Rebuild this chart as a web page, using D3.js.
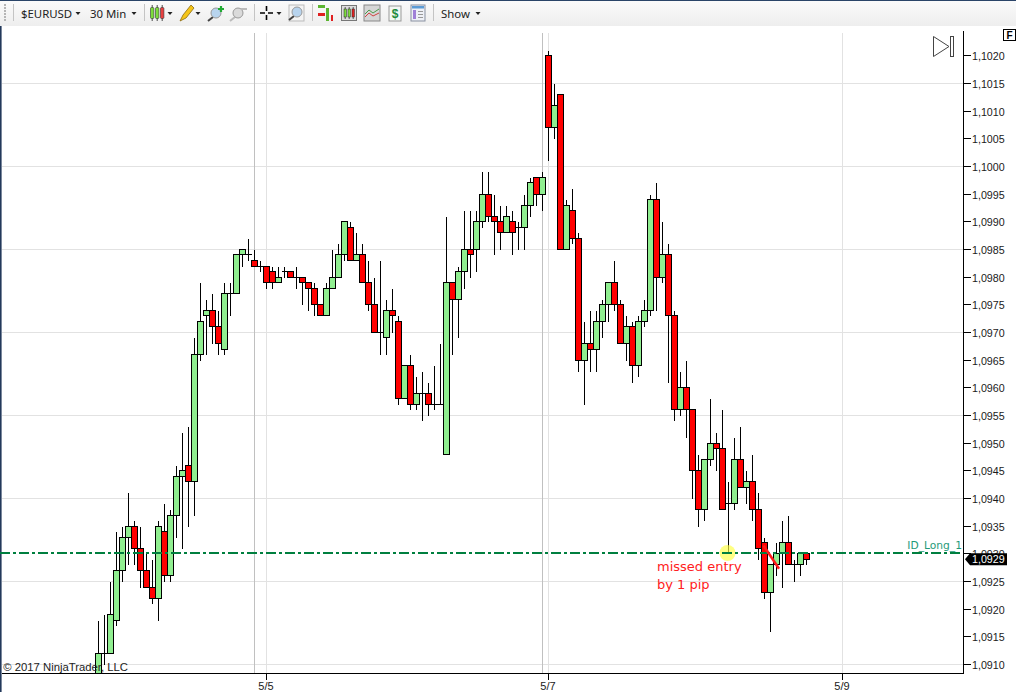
<!DOCTYPE html>
<html><head><meta charset="utf-8">
<script src="https://cdn.jsdelivr.net/npm/d3@7/dist/d3.min.js"></script>
<style>html,body{margin:0;padding:0;background:#fff;overflow:hidden}svg{display:block}</style>
</head><body><svg id="c" width="1016" height="692"></svg>
<script>
const opens=[1.0908,1.0912,1.0912,1.0918,1.0927,1.0933,1.0935,1.0931,1.0927,1.0924,1.0922,1.0934,1.0926,1.0937,1.0944,1.0946,1.0943,1.0966,1.0973,1.0974,1.0971,1.0967,1.0977,1.0977,1.0984,1.0984,1.0983,1.0982,1.0982,1.0981,1.0979,1.0981,1.0981,1.0980,1.0980,1.0979,1.0978,1.0975,1.0973,1.0978,1.0980,1.0984,1.0989,1.0983,1.0984,1.0979,1.0975,1.0970,1.0969,1.0974,1.0972,1.0958,1.0964,1.0957,1.0959,1.0959,1.0957,1.0957,1.0948,1.0979,1.0976,1.0981,1.0985,1.0985,1.0990,1.0995,1.0991,1.0990,1.0988,1.0990,1.0989,1.0989,1.0993,1.0998,1.0995,1.1020,1.1007,1.1013,1.0985,1.0992,1.0987,1.0965,1.0968,1.0967,1.0972,1.0975,1.0979,1.0975,1.0968,1.0971,1.0964,1.0972,1.0974,1.0994,1.0980,1.0984,1.0973,1.0956,1.0960,1.0956,1.0945,1.0938,1.0947,1.0950,1.0949,1.0939,1.0939,1.0947,1.0942,1.0943,1.0938,1.0932,1.0923,1.0928,1.0930,1.0932,1.0928,1.0928,1.0930];
const highs=[1.0918,1.0919,1.0925,1.0934,1.0935,1.0941,1.0936,1.0935,1.0930,1.0929,1.0936,1.0939,1.0938,1.0946,1.0952,1.0953,1.0969,1.0979,1.0976,1.0977,1.0974,1.0979,1.0979,1.0984,1.0985,1.0987,1.0985,1.0983,1.0982,1.0982,1.0982,1.0982,1.0981,1.0982,1.0980,1.0979,1.0979,1.0975,1.0979,1.0985,1.0986,1.0990,1.0990,1.0988,1.0986,1.0983,1.0980,1.0983,1.0976,1.0978,1.0973,1.0964,1.0966,1.0962,1.0963,1.0961,1.0964,1.0968,1.0991,1.0979,1.0982,1.0992,1.0992,1.0992,1.0999,1.0999,1.0995,1.0993,1.0993,1.0992,1.0990,1.0995,1.0998,1.0998,1.0999,1.1021,1.1015,1.1013,1.0994,1.0996,1.0988,1.0972,1.0974,1.0974,1.0976,1.0979,1.0983,1.0976,1.0973,1.0972,1.0973,1.0976,1.0995,1.0997,1.0990,1.0986,1.0974,1.0963,1.0965,1.0956,1.0948,1.0947,1.0958,1.0952,1.0956,1.0943,1.0951,1.0953,1.0945,1.0948,1.0941,1.0933,1.0928,1.0932,1.0936,1.0937,1.0929,1.0930,1.0930];
const lows=[1.0908,1.0910,1.0912,1.0917,1.0925,1.0928,1.0928,1.0924,1.0924,1.0921,1.0918,1.0925,1.0925,1.0933,1.0931,1.0935,1.0937,1.0965,1.0966,1.0968,1.0966,1.0966,1.0973,1.0977,1.0982,1.0983,1.0982,1.0981,1.0978,1.0978,1.0979,1.0980,1.0980,1.0978,1.0975,1.0974,1.0973,1.0973,1.0973,1.0978,1.0980,1.0983,1.0983,1.0983,1.0979,1.0974,1.0970,1.0966,1.0966,1.0970,1.0957,1.0958,1.0956,1.0956,1.0954,1.0955,1.0956,1.0957,1.0948,1.0966,1.0969,1.0978,1.0980,1.0981,1.0989,1.0990,1.0984,1.0985,1.0988,1.0984,1.0985,1.0985,1.0991,1.0993,1.0992,1.1001,1.1005,1.0985,1.0985,1.0986,1.0963,1.0957,1.0963,1.0963,1.0969,1.0972,1.0974,1.0968,1.0965,1.0961,1.0962,1.0971,1.0973,1.0974,1.0979,1.0961,1.0954,1.0955,1.0951,1.0940,1.0935,1.0936,1.0946,1.0945,1.0938,1.0930,1.0938,1.0942,1.0939,1.0936,1.0929,1.0922,1.0916,1.0926,1.0924,1.0928,1.0925,1.0926,1.0928];
const closes=[1.0912,1.0912,1.0919,1.0927,1.0933,1.0935,1.0931,1.0927,1.0924,1.0922,1.0935,1.0926,1.0937,1.0944,1.0945,1.0943,1.0966,1.0972,1.0974,1.0971,1.0968,1.0977,1.0977,1.0984,1.0985,1.0984,1.0982,1.0982,1.0979,1.0979,1.0980,1.0981,1.0980,1.0980,1.0979,1.0978,1.0975,1.0973,1.0978,1.0980,1.0984,1.0990,1.0983,1.0984,1.0979,1.0975,1.0970,1.0970,1.0974,1.0973,1.0958,1.0964,1.0957,1.0959,1.0959,1.0957,1.0957,1.0957,1.0979,1.0976,1.0981,1.0985,1.0984,1.0990,1.0995,1.0991,1.0990,1.0988,1.0991,1.0988,1.0989,1.0993,1.0997,1.0995,1.0998,1.1007,1.1011,1.0985,1.0993,1.0987,1.0965,1.0968,1.0967,1.0972,1.0975,1.0979,1.0975,1.0968,1.0971,1.0964,1.0972,1.0974,1.0994,1.0980,1.0984,1.0973,1.0956,1.0960,1.0956,1.0945,1.0938,1.0947,1.0950,1.0949,1.0938,1.0939,1.0947,1.0942,1.0943,1.0938,1.0931,1.0923,1.0928,1.0930,1.0932,1.0928,1.0928,1.0930,1.0929];
const priceTicks=[1.0910,1.0915,1.0920,1.0925,1.0930,1.0935,1.0940,1.0945,1.0950,1.0955,1.0960,1.0965,1.0970,1.0975,1.0980,1.0985,1.0990,1.0995,1.1000,1.1005,1.1010,1.1015,1.1020];
const priceGrid=[1.0910,1.0925,1.0940,1.0955,1.0970,1.0985,1.1000,1.1015];
const dateIndex=[28,75,124];
const dateLabels=["5/5","5/7","5/9"];
const sessionIndex=[26,74];
const entryPrice=1.0930, lastPrice=1.0929;
const missIndex=105;
const strokeFrom=[111,1.09315], strokeTo=[113,1.09273];
const noteLines=["missed entry","by 1 pip"];

const svg=d3.select("#c");
const L=2,R=963.5,T=33,B=673.5;
const x=d3.scaleLinear().domain([0,1]).range([98.5,104.5]);
const y=d3.scaleLinear().domain([1.0910,1.1020]).range([664.5,55.7]);
const py=v=>Math.floor(y(v))+0.5;
const sans="'Liberation Sans',Arial,sans-serif";
const ui="'Noto Sans','Open Sans',sans-serif";

// toolbar
const defs=svg.append("defs");
const g0=defs.append("linearGradient").attr("id","tb").attr("x1",0).attr("x2",0).attr("y1",0).attr("y2",1);
g0.append("stop").attr("offset",0).attr("stop-color","#fbfbfb");
g0.append("stop").attr("offset",1).attr("stop-color","#eeeeee");
const tb=svg.append("g");
tb.append("rect").attr("width",1016).attr("height",26).attr("fill","url(#tb)");
tb.append("rect").attr("width",1016).attr("height",1).attr("fill","#2a4468");
svg.append("rect").attr("x",0).attr("y",26).attr("width",1.6).attr("height",666).attr("fill","#23395b");
[[21,"$EURUSD"],[90,"30 Min"],[441,"Show"]].forEach(d=>tb.append("text").attr("x",d[0]).attr("y",17.5).attr("font-family",ui).attr("font-size",11.4).attr("fill","#222").text(d[1]));
[78,134,170,198,279,478].forEach(a=>tb.append("path").attr("d",`M${a-2.5} 12L${a+2.5} 12L${a} 15Z`).attr("fill","#222"));
[13.5,144.5,254.5,312.5,433.5].forEach(a=>tb.append("line").attr("x1",a).attr("x2",a).attr("y1",4).attr("y2",21).attr("stroke","#c4c4c4"));
[4,7,10,13,16,19].forEach(a=>tb.append("rect").attr("x",4).attr("y",a).attr("width",2).attr("height",2).attr("fill","#b5b5b5"));
// candle icon
[[150.5,"#7ddc3c"],[155.5,"#7ddc3c"],[160.5,"#e84040"]].forEach(d=>{
  tb.append("line").attr("x1",d[0]+1.7).attr("x2",d[0]+1.7).attr("y1",5).attr("y2",21).attr("stroke","#222").attr("stroke-width",.8);
  tb.append("rect").attr("x",d[0]).attr("y",7.5).attr("width",3.4).attr("height",11).attr("rx",1).attr("fill",d[1]).attr("stroke","#333").attr("stroke-width",.6);});
// pencil
tb.append("path").attr("d","M180 21L183 15L191 5L194 8L186 18Z").attr("fill","#f5c518").attr("stroke","#8a6a10").attr("stroke-width",.8);
// zoom icons
function lens(cx,cy,c,h){tb.append("line").attr("x1",cx-3).attr("y1",cy+4).attr("x2",cx-8).attr("y2",cy+8).attr("stroke",h).attr("stroke-width",2);
 tb.append("circle").attr("cx",cx).attr("cy",cy).attr("r",5).attr("fill",c).attr("stroke","#999");}
lens(216,13,"#b8d4ee","#444");
tb.append("path").attr("d","M218 9h6M221 6v6").attr("stroke","#22aa33").attr("stroke-width",2.2);
lens(238,13,"#dadada","#bbb");
tb.append("path").attr("d","M241 9h6").attr("stroke","#bbb").attr("stroke-width",2);
tb.append("path").attr("d","M260 13h5M268 13h5M266.5 6v5M266.5 15v5").attr("stroke","#000").attr("stroke-width",1.6);
tb.append("rect").attr("x",289).attr("y",5).attr("width",15).attr("height",16).attr("fill","#f4f4f4").attr("stroke","#bbb");
lens(297,12,"#b8d4ee","#444");
// right-side toolbar icons
tb.append("rect").attr("x",318).attr("y",5).attr("width",7).attr("height",3).attr("fill","#5cb531");
tb.append("rect").attr("x",318).attr("y",13).attr("width",7).attr("height",3).attr("fill","#e02020");
tb.append("rect").attr("x",326).attr("y",8).attr("width",3).attr("height",13).attr("fill","#5cb531");
tb.append("rect").attr("x",331).attr("y",15).attr("width",2).attr("height",6).attr("fill","#e02020");
tb.append("rect").attr("x",341.5).attr("y",5.5).attr("width",15).attr("height",15).attr("fill","#dcdcdc").attr("stroke","#777");
[[344,"#7ddc3c"],[348,"#7ddc3c"],[352,"#e02020"]].forEach(d=>{
  tb.append("line").attr("x1",d[0]+1.2).attr("x2",d[0]+1.2).attr("y1",7).attr("y2",19).attr("stroke","#222").attr("stroke-width",.7);
  tb.append("rect").attr("x",d[0]).attr("y",9).attr("width",2.4).attr("height",8).attr("fill",d[1]).attr("stroke","#222").attr("stroke-width",.5);});
tb.append("rect").attr("x",364).attr("y",5).attr("width",16).attr("height",16).attr("fill","#d6d6d6").attr("stroke","#888");
tb.append("path").attr("d","M365 14L369 10L373 13L379 9").attr("fill","none").attr("stroke","#4a9a4a");
tb.append("path").attr("d","M365 17L369 13L373 16L379 13").attr("fill","none").attr("stroke","#d04040");
tb.append("rect").attr("x",389).attr("y",6).attr("width",12).attr("height",15).attr("fill","#f4f8f4").attr("stroke","#999");
tb.append("text").attr("x",395).attr("y",18).attr("text-anchor","middle").attr("font-family",sans).attr("font-weight","bold").attr("font-size",12).attr("fill","#1d8a3a").text("$");
tb.append("rect").attr("x",411).attr("y",5).attr("width",14).attr("height",16).attr("fill","#eef0f6").attr("stroke","#8890a0");
tb.append("rect").attr("x",412).attr("y",6).attr("width",12).attr("height",2.5).attr("fill","#5b9bd5");
tb.append("rect").attr("x",413).attr("y",10).attr("width",3).attr("height",9).attr("fill","#a080d8");
[11,14,17].forEach(a=>tb.append("line").attr("x1",418).attr("x2",423).attr("y1",a+.5).attr("y2",a+.5).attr("stroke","#999"));

// grid
const plot=svg.append("g").attr("shape-rendering","crispEdges");
plot.selectAll(".hg").data(priceGrid).join("line").attr("x1",L).attr("x2",R).attr("y1",py).attr("y2",py).attr("stroke","#e2e2e2");
plot.selectAll(".vg").data(dateIndex).join("line").attr("x1",d=>x(d)).attr("x2",d=>x(d)).attr("y1",T).attr("y2",B).attr("stroke","#e2e2e2");
plot.selectAll(".sg").data(sessionIndex).join("line").attr("x1",d=>x(d)).attr("x2",d=>x(d)).attr("y1",T).attr("y2",B).attr("stroke","#c0c0c0");

// candles
defs.append("clipPath").attr("id","pc").append("rect").attr("x",L).attr("y",T).attr("width",R-L).attr("height",B-T);
const cg=svg.append("g").attr("clip-path","url(#pc)").attr("shape-rendering","crispEdges");
opens.forEach((o,i)=>{
  const c=closes[i];
  cg.append("line").attr("x1",x(i)).attr("x2",x(i)).attr("y1",py(highs[i])).attr("y2",py(lows[i])).attr("stroke","#000");
  if(o===c){cg.append("line").attr("x1",x(i)-3).attr("x2",x(i)+3).attr("y1",py(o)).attr("y2",py(o)).attr("stroke","#000");}
  else{const t=py(Math.max(o,c)),b=py(Math.min(o,c));
    cg.append("rect").attr("x",x(i)-3).attr("width",6).attr("y",t).attr("height",b-t).attr("fill",c>o?"#90ee90":"#ff0000").attr("stroke","#000");}
});
svg.append("text").attr("x",3.3).attr("y",670.5).attr("font-family",sans).attr("font-size",11.3).attr("fill","#222").text("© 2017 NinjaTrader, LLC");

// entry line
const ey=Math.floor(y(entryPrice));
svg.append("circle").attr("cx",x(missIndex)-1).attr("cy",ey).attr("r",8).attr("fill","#ffff40").attr("fill-opacity",.65);
svg.append("line").attr("x1",0).attr("x2",R).attr("y1",ey).attr("y2",ey).attr("stroke","#007f3f").attr("stroke-width",2).attr("stroke-dasharray","10 3 3 3").attr("shape-rendering","crispEdges");
svg.append("text").attr("x",962).attr("y",549).attr("text-anchor","end").attr("font-family","'DejaVu Sans',sans-serif").attr("font-size",10.7).attr("fill","#1f9a78").text("ID_Long_1");
// annotation stroke
svg.append("line").attr("x1",x(strokeFrom[0])-1).attr("y1",y(strokeFrom[1])).attr("x2",x(strokeTo[0])+2.5).attr("y2",y(strokeTo[1])).attr("stroke","#ff1a1a").attr("stroke-width",2.5);
svg.selectAll(".note").data(noteLines).join("text").attr("x",657).attr("y",(d,i)=>571+i*18).attr("font-family","'DejaVu Sans',sans-serif").attr("font-size",13).attr("fill","#ff2020").text(d=>d);

// axes
const ax=svg.append("g");
ax.append("line").attr("x1",R).attr("x2",R).attr("y1",31).attr("y2",B).attr("stroke","#000").attr("shape-rendering","crispEdges");
ax.append("line").attr("x1",2).attr("x2",R).attr("y1",B).attr("y2",B).attr("stroke","#000").attr("shape-rendering","crispEdges");
const fmt=d3.format(".4f");
ax.selectAll(".yt").data(priceTicks).join("line").attr("x1",R).attr("x2",R+7).attr("y1",py).attr("y2",py).attr("stroke","#000").attr("shape-rendering","crispEdges");
ax.selectAll(".yl").data(priceTicks).join("text").attr("x",972).attr("y",d=>py(d)+4).attr("font-family",sans).attr("font-size",10.7).attr("fill","#1a1a1a").text(d=>fmt(d).replace(".",","));
ax.selectAll(".xt").data(dateIndex).join("line").attr("x1",d=>x(d)).attr("x2",d=>x(d)).attr("y1",B).attr("y2",B+6).attr("stroke","#000").attr("shape-rendering","crispEdges");
ax.selectAll(".xl").data(dateIndex).join("text").attr("x",d=>x(d)-0.5).attr("y",690).attr("text-anchor","middle").attr("font-family",sans).attr("font-size",11).attr("fill","#1a1a1a").text((d,i)=>dateLabels[i]);

// last price flag
const ly=y(lastPrice);
ax.append("path").attr("d",`M965 ${ly}L970 ${ly-6}L1007 ${ly-6}L1007 ${ly+6}L970 ${ly+6}Z`).attr("fill","#000");
ax.append("text").attr("x",972).attr("y",ly+4).attr("font-family",sans).attr("font-size",10.7).attr("fill","#fff").text(fmt(lastPrice).replace(".",","));

// corner controls
ax.append("rect").attr("x",1003.5).attr("y",29.5).attr("width",12).attr("height",11).attr("fill","#fff").attr("stroke","#000").attr("shape-rendering","crispEdges");
ax.append("text").attr("x",1009.5).attr("y",38.8).attr("text-anchor","middle").attr("font-family",sans).attr("font-weight","bold").attr("font-size",10).text("F");
ax.append("path").attr("d","M933.5 36.5L949 46.5L933.5 56.5Z").attr("fill","none").attr("stroke","#444");
ax.append("rect").attr("x",950.5).attr("y",36.5).attr("width",3).attr("height",20).attr("fill","none").attr("stroke","#444").attr("shape-rendering","crispEdges");
</script></body></html>
